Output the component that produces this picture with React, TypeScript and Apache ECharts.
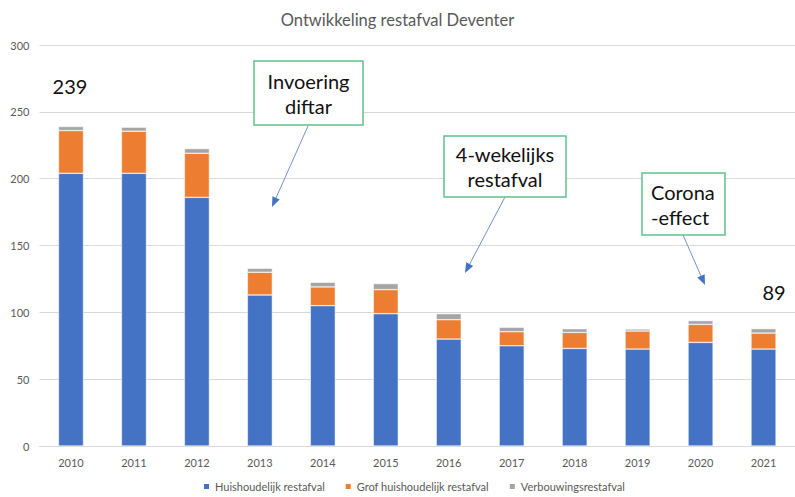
import React, { useEffect, useRef } from "react";
import * as echarts from "echarts";

const years = ["2010","2011","2012","2013","2014","2015","2016","2017","2018","2019","2020","2021"];
const huishoudelijk = [204, 204, 186, 113, 105, 99, 80, 75, 73, 72.5, 77.5, 72.5];
const grof = [32, 31.5, 33, 17, 14, 18, 14.5, 10.5, 12, 13.5, 13.5, 12];
const verbouwing = [3, 3, 3.5, 3, 3.5, 4.5, 4.5, 3.3, 2.7, 1.5, 2.8, 3.3];
const seriesNames = ["Huishoudelijk restafval", "Grof huishoudelijk restafval", "Verbouwingsrestafval"];
const colors = ["#4472c4", "#ed7d31", "#a5a5a5"];

const FONT = "Lato, 'Noto Sans', sans-serif";

function arrow(x1: number, y1: number, x2: number, y2: number) {
  const dx = x2 - x1, dy = y2 - y1;
  const len = Math.sqrt(dx * dx + dy * dy);
  const ux = dx / len, uy = dy / len;
  const hl = 10, hw = 4;
  const bx = x2 - ux * hl, by = y2 - uy * hl;
  const px = -uy, py = ux;
  return [
    { type: "line", z: 100, shape: { x1, y1, x2: bx, y2: by }, style: { stroke: "#6f94d6", lineWidth: 1 } },
    {
      type: "polygon",
      z: 100,
      shape: { points: [[x2, y2], [bx + px * hw, by + py * hw], [bx - px * hw, by - py * hw]] },
      style: { fill: "#4472c4" },
    },
  ];
}

function box(x: number, y: number, w: number, h: number, lines: string[], align: "center" | "left", tx: number) {
  return [
    { type: "rect", z: 100, shape: { x, y, width: w, height: h }, style: { fill: "#fff", stroke: "#5cc48a", lineWidth: 1.5 } },
    {
      type: "text",
      z: 101,
      x: tx,
      y: y + h / 2,
      style: {
        text: lines.join("\n"),
        font: `20px ${FONT}`,
        fill: "#111",
        align,
        verticalAlign: "middle",
        lineHeight: 25,
      },
    },
  ];
}

export default function App() {
  const ref = useRef<HTMLDivElement>(null);
  useEffect(() => {
    if (!ref.current) return;
    const chart = echarts.init(ref.current, null, { renderer: "svg" });
    const mk = (i: number, data: number[]) => ({
      name: seriesNames[i],
      type: "bar",
      stack: "total",
      data,
      barWidth: 25,
      itemStyle: { color: colors[i], borderColor: "#fff", borderWidth: 0.5 },
    });
    chart.setOption({
      animation: false,
      textStyle: { fontFamily: FONT },
      title: {
        text: "Ontwikkeling restafval Deventer",
        left: "center",
        top: 6,
        textStyle: { fontSize: 16.5, fontWeight: "normal", color: "#595959", fontFamily: FONT },
      },
      grid: { left: 39.5, top: 45, width: 768, height: 401 },
      legend: {
        top: 479,
        left: 200,
        padding: 2,
        itemWidth: 7,
        itemHeight: 7,
        itemGap: 19,
        icon: "rect",
        textStyle: { fontSize: 11, color: "#595959", fontFamily: FONT },
        data: seriesNames,
      },
      xAxis: {
        type: "category",
        data: years,
        axisLine: { lineStyle: { color: "#d9d9d9" } },
        axisTick: { show: false },
        axisLabel: { color: "#595959", fontSize: 11, margin: 11, fontFamily: FONT },
      },
      yAxis: {
        type: "value",
        min: 0,
        max: 300,
        interval: 50,
        axisLine: { show: false },
        axisTick: { show: false },
        splitLine: { lineStyle: { color: "#d9d9d9" } },
        axisLabel: { color: "#595959", fontSize: 11, margin: 10, fontFamily: FONT },
      },
      series: [mk(0, huishoudelijk), mk(1, grof), mk(2, verbouwing)],
      graphic: [
        { type: "text", z: 100, x: 70, y: 86, style: { text: "239", font: `20px ${FONT}`, fill: "#111", align: "center", verticalAlign: "middle" } },
        { type: "text", z: 100, x: 774, y: 292, style: { text: "89", font: `20px ${FONT}`, fill: "#111", align: "center", verticalAlign: "middle" } },
        ...arrow(308, 126, 272, 207),
        ...arrow(505, 197, 465, 273),
        ...arrow(683, 235, 705, 285),
        ...box(254, 61, 109, 64, ["Invoering", "diftar"], "center", 308.5),
        ...box(444, 136, 122, 61, ["4-wekelijks", "restafval"], "center", 505),
        ...box(642, 173, 83, 62, ["Corona", "-effect"], "left", 651),
      ],
    });
    return () => chart.dispose();
  }, []);
  return <div ref={ref} style={{ position: "absolute", left: 0, top: 0, width: 795, height: 497 }} />;
}
